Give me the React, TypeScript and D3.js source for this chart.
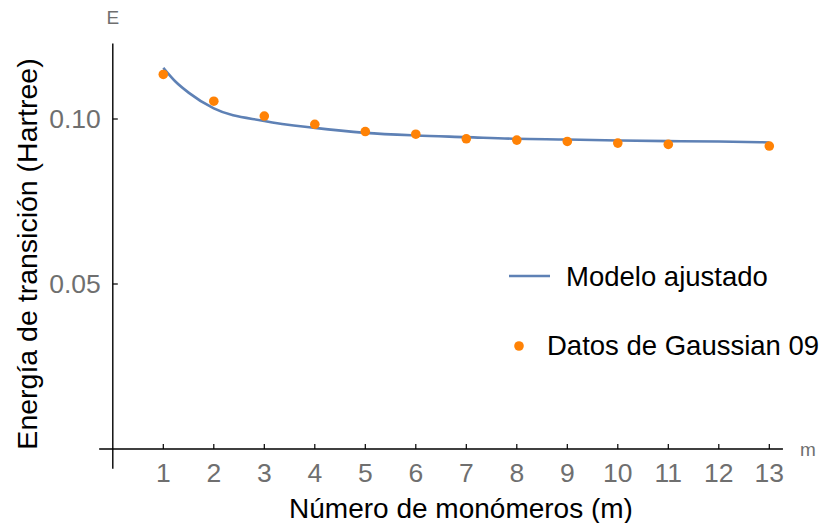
import React from "react";
import * as d3 from "d3";

// Gaussian 09 data points (m, E)
const dataM = [1, 2, 3, 4, 5, 6, 7, 8, 9, 10, 11, 13];
const dataE = [0.1135, 0.1054, 0.1009, 0.0984, 0.0962, 0.0954, 0.094, 0.0936, 0.0932, 0.0927, 0.0923, 0.0918];

// fitted model
const fitM = [1, 1.25, 1.5, 2, 3, 4, 5, 6, 7, 8, 9, 10, 11, 12, 13];
const fitE = [0.1155, 0.1112, 0.108, 0.1032, 0.0994, 0.0973, 0.0958, 0.095, 0.0945, 0.094, 0.0938, 0.0935, 0.0933, 0.0932, 0.0929];

const xTicks = [1, 2, 3, 4, 5, 6, 7, 8, 9, 10, 11, 12, 13];
const yTicks = [0.05, 0.1];

const legendLabels = ["Modelo ajustado", "Datos de Gaussian 09"];

const width = 820;
const height = 523;
const lineColor = "#5e81b5";
const dotColor = "#ff8205";
const font = "'Liberation Sans', Arial, sans-serif";

export default function App() {
  const x = d3.scaleLinear().domain([0, 13]).range([112.8, 769.3]);
  const y = d3.scaleLinear().domain([0, 0.1]).range([449, 119]);

  const line = d3
    .line<number>()
    .x((d, i) => x(fitM[i]))
    .y((d) => y(d))
    .curve(d3.curveMonotoneX);

  const x0 = x(0);
  const y0 = y(0);

  return (
    <svg
      width={width}
      height={height}
      style={{ position: "absolute", left: 0, top: 0, background: "#fff" }}
      fontFamily={font}
    >
      {/* axes */}
      <line x1={x(-0.27)} x2={x(13.27)} y1={y0} y2={y0} stroke="#000" strokeWidth={1.4} />
      <line x1={x0} x2={x0} y1={y(-0.006)} y2={y(0.1229)} stroke="#000" strokeWidth={1.4} />

      {xTicks.map((t) => (
        <g key={"x" + t}>
          <line x1={x(t)} x2={x(t)} y1={y0} y2={y0 - 5} stroke="#000" strokeWidth={1.2} />
          <text x={x(t)} y={y0 + 33} textAnchor="middle" fontSize={26.5} fill="#6f6f6f">
            {t}
          </text>
        </g>
      ))}
      {yTicks.map((t) => (
        <g key={"y" + t}>
          <line x1={x0} x2={x0 + 5} y1={y(t)} y2={y(t)} stroke="#000" strokeWidth={1.2} />
          <text x={x0 - 12} y={y(t)} textAnchor="end" dominantBaseline="central" fontSize={26.5} fill="#6f6f6f">
            {t.toFixed(2)}
          </text>
        </g>
      ))}

      {/* axis end labels */}
      <text x={x0} y={24} textAnchor="middle" fontSize={19} fill="#6f6f6f">E</text>
      <text x={800} y={456} fontSize={19} fill="#6f6f6f">m</text>

      {/* axis titles */}
      <text x={461} y={518} textAnchor="middle" fontSize={28} fill="#000">
        Número de monómeros (m)
      </text>
      <text
        transform={`translate(37,254) rotate(-90)`}
        textAnchor="middle"
        fontSize={28.5}
        fill="#000"
      >
        Energía de transición (Hartree)
      </text>

      {/* fitted curve */}
      <path d={line(fitE) || ""} fill="none" stroke={lineColor} strokeWidth={2.6} />

      {/* data points */}
      {dataE.map((v, i) => (
        <circle key={"p" + i} cx={x(dataM[i])} cy={y(v)} r={4.8} fill={dotColor} />
      ))}

      {/* legend */}
      <line x1={509} x2={550} y1={276} y2={276} stroke={lineColor} strokeWidth={2.6} />
      <text x={566} y={276} dominantBaseline="central" fontSize={27.5} fill="#000">
        {legendLabels[0]}
      </text>
      <circle cx={519} cy={346} r={4.8} fill={dotColor} />
      <text x={547} y={345} dominantBaseline="central" fontSize={27.5} fill="#000">
        {legendLabels[1]}
      </text>
    </svg>
  );
}
